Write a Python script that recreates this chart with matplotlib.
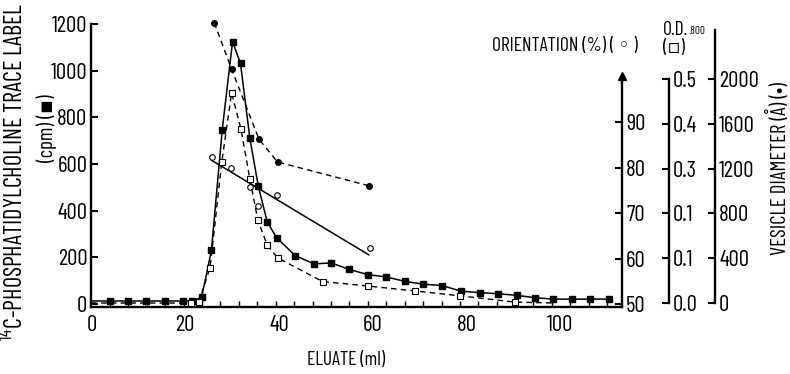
import matplotlib
matplotlib.use('Agg')
import matplotlib.pyplot as plt
from matplotlib import font_manager as fm

names = {f.name for f in fm.fontManager.ttflist}
FONT = 'DejaVu Sans'
for cand in ['Barlow Condensed', 'Roboto Condensed', 'Archivo Narrow', 'Asap Condensed']:
    if cand in names:
        FONT = cand
        break
plt.rcParams['font.family'] = [FONT, 'DejaVu Sans']
plt.rcParams['mathtext.fontset'] = 'custom'
plt.rcParams['mathtext.rm'] = FONT

# ---------------- data ----------------
# 14C-phosphatidylcholine trace label (cpm), filled squares, solid line
label_x = [0, 3.9, 7.8, 11.7, 15.6, 19.5, 21.5, 23.5, 25.6, 27.9, 30.1, 31.8, 33.8,
           35.6, 37.5, 39.5, 43.5, 47.5, 51.2, 55.0, 59.0, 62.9, 66.9, 70.8, 74.9,
           78.8, 82.9, 86.8, 90.8, 94.7, 98.5, 102.5, 106.4, 110.5]
label_cpm = [13, 13, 13, 13, 13, 13, 14, 28, 231, 746, 1124, 1031, 710,
             505, 352, 284, 207, 172, 176, 148, 126, 116, 97, 85, 79,
             55, 49, 44, 37, 27, 21, 21, 21, 21]

# O.D.800, open squares, dashed line
od_x = [0, 21.3, 22.9, 25.3, 27.8, 29.9, 31.9, 33.8, 35.5, 37.5, 39.7, 49.3,
        58.9, 69.0, 78.7, 90.4, 99.0]
od_val = [0.0, 0.0, 0.002, 0.079, 0.314, 0.469, 0.388, 0.277, 0.185, 0.129,
          0.101, 0.048, 0.038, 0.027, 0.016, 0.002, 0.0]

# Orientation (%), open circles + straight fitted line
orient_x = [25.7, 29.8, 33.8, 35.5, 39.5, 59.4]
orient_pct = [82.4, 80.0, 75.8, 71.6, 73.9, 62.4]
orient_fit_x = [25.6, 59.2]
orient_fit_pct = [81.6, 60.8]

# Vesicle diameter (Angstrom), filled circles, dashed line
vesicle_x = [26.2, 29.9, 35.75, 39.7, 59.2]
vesicle_A = [2503, 2087, 1462, 1259, 1047]

# axis ticks / labels
x_major = [0, 20, 40, 60, 80, 100]
x_fractions = [3.93, 7.86, 11.8, 15.7, 19.65, 23.6, 27.5, 31.4, 35.4, 39.3, 43.2,
               47.2, 51.1, 55.0, 59.0, 62.9, 66.8, 70.7, 74.7, 78.6, 82.5, 86.5,
               90.4, 94.3, 98.3, 102.2, 106.1, 110.0]
cpm_ticks = [0, 200, 400, 600, 800, 1000, 1200]
orient_ticks = [50, 60, 70, 80, 90]
od_ticks = [0.0, 0.1, 0.2, 0.3, 0.4, 0.5]
od_ticklabels = ['0.0', '0.1', '0.1', '0.3', '0.4', '0.5']
ves_ticks = [0, 400, 800, 1200, 1600, 2000]

FS = 16.5
LW_SP = 1.7

fig = plt.figure(figsize=(7.9, 3.74), dpi=100)
ax = fig.add_axes([0.1158, 0.1791, 0.6715, 0.7674])
ax.set_xlim(0, 113.2)
ax.set_ylim(-12.86, 1217.1)

ax.plot(label_x, label_cpm, '-', color='black', lw=1.1, marker='s', ms=4,
        markevery=list(range(1, len(label_x))), clip_on=False, zorder=5)

for s in ['top', 'right']:
    ax.spines[s].set_visible(False)
ax.spines['left'].set_bounds(-12.86, 1200)
ax.spines['left'].set_linewidth(LW_SP)
ax.spines['bottom'].set_linewidth(LW_SP)
ax.set_yticks(cpm_ticks)
ax.tick_params(axis='y', direction='in', length=5, width=1.5, pad=3, labelsize=FS)
ax.set_xticks(x_major)
ax.set_xticks(x_fractions, minor=True)
ax.tick_params(axis='x', which='major', length=0, pad=6, labelsize=FS)
ax.tick_params(axis='x', which='minor', direction='in', length=4, width=1)


def style_twin(t, pos, lo, hi):
    for s in ['top', 'left', 'bottom']:
        t.spines[s].set_visible(False)
    t.spines['right'].set_position(('axes', pos))
    t.spines['right'].set_bounds(lo, hi)
    t.spines['right'].set_linewidth(LW_SP)
    t.tick_params(axis='y', direction='in', length=5, width=1.5, pad=3, labelsize=FS)


# Orientation axis
t1 = ax.twinx()
t1.set_ylim(49.34, 112.42)
style_twin(t1, 1.0, 49.34, 100.1)
t1.set_yticks(orient_ticks)
t1.plot([1], [100.1], marker='^', ms=6, color='black',
        transform=t1.get_yaxis_transform(), clip_on=False)
t1.plot(orient_fit_x, orient_fit_pct, '-', color='black', lw=1.1)
t1.plot(orient_x, orient_pct, 'o', ls='none', mfc='white', mec='black', ms=4, mew=0.8)

# O.D. axis
t2 = ax.twinx()
t2.set_ylim(-0.00893, 0.6317)
style_twin(t2, 1.0886, 0.0, 0.5)
t2.set_yticks(od_ticks)
t2.set_yticklabels(od_ticklabels)
t2.plot(od_x, od_val, color='black', lw=1.0, dashes=(4, 3), marker='s', ms=4,
        mfc='white', mec='black', mew=0.8, markevery=list(range(1, len(od_x) - 1)),
        clip_on=False)

# Vesicle diameter axis
t3 = ax.twinx()
t3.set_ylim(-35.7, 2526.8)
style_twin(t3, 1.1753, 0, 2437)
t3.set_yticks(ves_ticks)
t3.plot(vesicle_x, vesicle_A, color='black', lw=1.0, dashes=(4, 3), marker='o',
        ms=4, clip_on=False)

# Labels
fig.text(15 / 790, 1 - 172 / 374, r'$^{\mathregular{14}}$C-PHOSPHATIDYLCHOLINE TRACE LABEL',
         rotation=90, ha='center', va='center', fontsize=17.5)
fig.text(47 / 790, 1 - 128 / 374, '(cpm) (▪)', rotation=90, ha='center', va='center',
         fontsize=15)
fig.text(778 / 790, 1 - 169 / 374, 'VESICLE DIAMETER (Å) (•)', rotation=90,
         ha='center', va='center', fontsize=15)
fig.text(565 / 790, 1 - 46 / 374, 'ORIENTATION (%) ( ◦ )', ha='center', va='center',
         fontsize=14)
od_lab = fig.text(663 / 790, 1 - 30 / 374, 'O.D.', ha='left', va='center', fontsize=14)
fig.text(663 / 790, 1 - 48 / 374, '(▫)', ha='left', va='center', fontsize=14)
ax.annotate('.800', xy=(1.0, 0.45), xycoords=od_lab, ha='left', va='center',
            fontsize=8, annotation_clip=False)
fig.text(346 / 790, 1 - 360 / 374, 'ELUATE (ml)', ha='center', va='center', fontsize=14)

fig.savefig('out.png', dpi=100)
